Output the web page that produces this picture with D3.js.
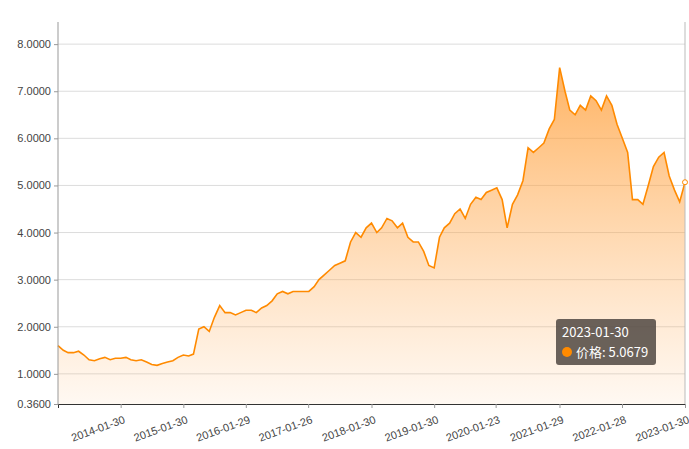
<!DOCTYPE html>
<html><head><meta charset="utf-8">
<script src="https://cdn.jsdelivr.net/npm/d3@7"></script>
<style>body{margin:0;background:#fff;font-family:"Microsoft YaHei","Noto Sans CJK SC",sans-serif;}</style>
</head><body><div id="vis"></div>
<script>
// monthly prices, 2013-01 .. 2023-01
var prices = [
  1.60,1.50,1.45,1.45,1.48,1.40,1.30,1.28,1.32,1.35,1.30,1.33,
  1.33,1.35,1.30,1.28,1.30,1.25,1.20,1.18,1.22,1.25,1.28,1.35,
  1.40,1.38,1.42,1.95,2.00,1.90,2.20,2.45,2.30,2.30,2.25,2.30,
  2.35,2.35,2.30,2.40,2.45,2.55,2.70,2.75,2.70,2.75,2.75,2.75,
  2.75,2.85,3.00,3.10,3.20,3.30,3.35,3.40,3.80,4.00,3.90,4.10,
  4.20,4.00,4.10,4.30,4.25,4.10,4.20,3.90,3.80,3.80,3.60,3.30,
  3.25,3.90,4.10,4.20,4.40,4.50,4.30,4.60,4.75,4.70,4.85,4.90,
  4.95,4.70,4.10,4.60,4.80,5.10,5.80,5.70,5.80,5.90,6.20,6.40,
  7.50,7.00,6.60,6.50,6.70,6.60,6.90,6.80,6.60,6.90,6.70,6.30,
  6.00,5.70,4.70,4.70,4.60,5.00,5.40,5.60,5.70,5.20,4.90,4.65,
  5.0679
];
var xTickLabels = ["2014-01-30","2015-01-30","2016-01-29","2017-01-26","2018-01-30","2019-01-30","2020-01-23","2021-01-29","2022-01-28","2023-01-30"];
var yTicks = [0.36,1,2,3,4,5,6,7,8];

var width = 689, height = 449;
var mLeft = 58, mRight = 685, mTop = 22, mBottom = 404;
var parse = d3.timeParse("%Y-%m-%d");
var data = prices.map(function(v, i) {
  return {date: new Date(2013, i, 30), value: v};
});
data[data.length - 1].date = parse("2023-01-30");

var x = d3.scaleTime().domain([parse("2013-01-30"), parse("2023-01-30")]).range([mLeft, mRight]);
var y = d3.scaleLinear().domain([0.36, 8.47]).range([mBottom, mTop]);

var svg = d3.select("#vis").append("svg").attr("width", width).attr("height", height);

var grad = svg.append("defs").append("linearGradient").attr("id", "g")
    .attr("x1", 0).attr("y1", 0).attr("x2", 0).attr("y2", 1);
grad.append("stop").attr("offset", "0%").attr("stop-color", "#ff9a2e").attr("stop-opacity", 0.75);
grad.append("stop").attr("offset", "100%").attr("stop-color", "#ffb060").attr("stop-opacity", 0.08);

// grid
svg.append("g").selectAll("line").data(yTicks.slice(1)).enter().append("line")
    .attr("x1", mLeft).attr("x2", mRight)
    .attr("y1", function(d) { return y(d); }).attr("y2", function(d) { return y(d); })
    .style("stroke", "#dcdcdc");

svg.append("path").datum(data)
    .attr("d", d3.area().x(function(d) { return x(d.date); }).y0(mBottom).y1(function(d) { return y(d.value); }))
    .style("fill", "url(#g)");
svg.append("path").datum(data)
    .attr("d", d3.line().x(function(d) { return x(d.date); }).y(function(d) { return y(d.value); }))
    .style("fill", "none").style("stroke", "#ff8a00").style("stroke-width", 1.6);

// y axis
var yAxis = svg.append("g").attr("transform", "translate(" + mLeft + ",0)")
    .call(d3.axisLeft(y).tickValues(yTicks).tickFormat(d3.format(".4f")).tickSize(4));
yAxis.select(".domain").attr("d", "M0," + mTop + "V" + mBottom).style("stroke", "#999");
yAxis.selectAll("text").style("font-size", "11px").style("fill", "#444");
yAxis.selectAll(".tick line").style("stroke", "#999");

// x axis
var xAxis = svg.append("g").attr("transform", "translate(0," + mBottom + ")")
    .call(d3.axisBottom(x).tickValues(xTickLabels.map(parse)).tickFormat(d3.timeFormat("%Y-%m-%d")).tickSize(4));
xAxis.select(".domain").style("stroke", "#333");
xAxis.selectAll(".tick line").style("stroke", "#999");
xAxis.selectAll("text").style("font-size", "11px").style("fill", "#444")
    .attr("text-anchor", "end").attr("dx", "-2").attr("dy", "12")
    .attr("transform", "rotate(-20)");

// axis pointer + tooltip
var last = data[data.length - 1];
svg.append("line").attr("x1", x(last.date)).attr("x2", x(last.date)).attr("y1", mTop).attr("y2", mBottom)
    .style("stroke", "#bbb");
svg.append("circle").attr("cx", x(last.date)).attr("cy", y(last.value)).attr("r", 2.5)
    .style("fill", "#fff").style("stroke", "#ff8a00");

var tip = svg.append("g").attr("transform", "translate(556,319)");
tip.append("rect").attr("width", 100).attr("height", 46).attr("rx", 3).style("fill", "rgba(80,72,66,0.85)");
tip.append("text").attr("x", 6).attr("y", 18).style("fill", "#fff").style("font-size", "13px").text("2023-01-30");
tip.append("circle").attr("cx", 11).attr("cy", 33).attr("r", 5).style("fill", "#ff8a00");
tip.append("text").attr("x", 20).attr("y", 38).style("fill", "#fff").style("font-size", "13px")
    .text("价格: " + last.value.toFixed(4));
</script></body></html>
